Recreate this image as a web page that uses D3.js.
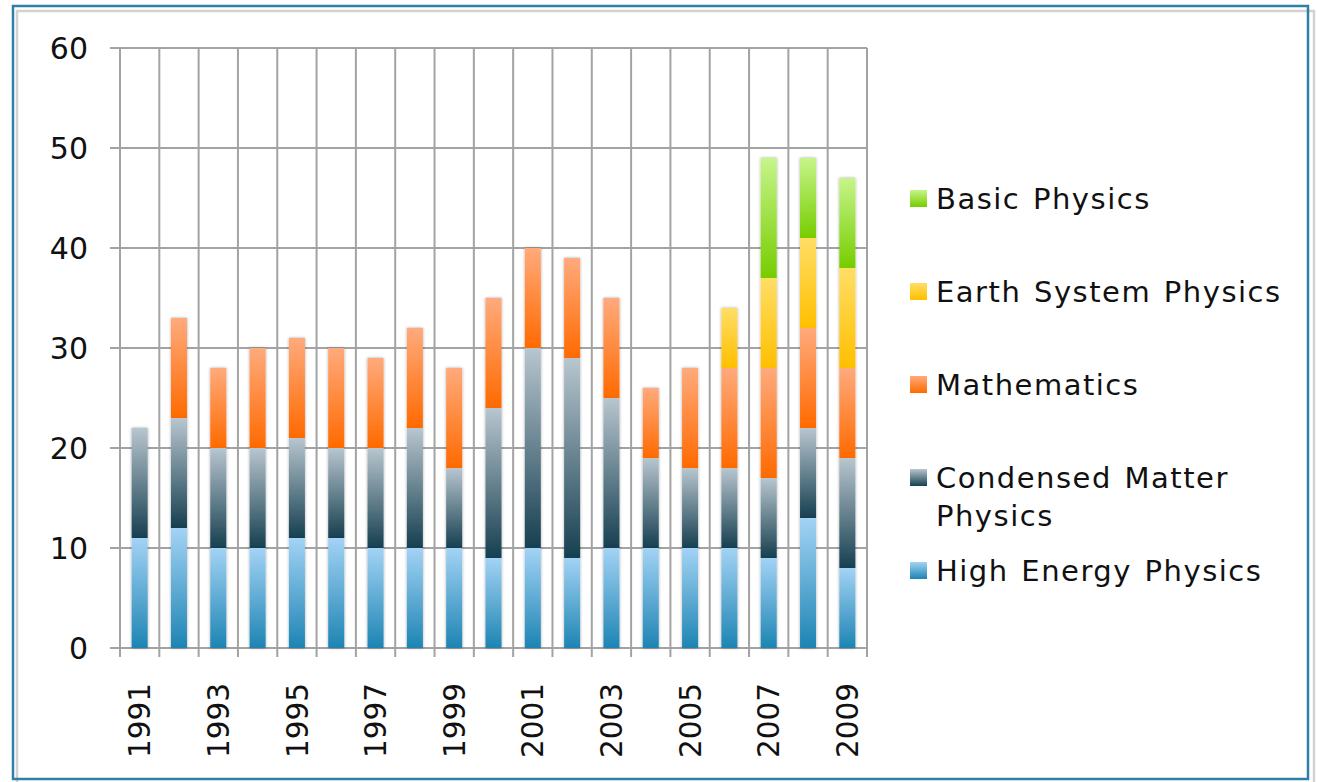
<!DOCTYPE html>
<html>
<head>
<meta charset="utf-8">
<script src="https://cdn.jsdelivr.net/npm/d3@7"></script>
<style>
  html,body{margin:0;padding:0;background:#fff;}
  svg{display:block;font-family:"DejaVu Sans",Verdana,sans-serif;}
</style>
</head>
<body>
<svg id="chart" width="1317" height="782"></svg>
<script>
// ---- data ----
const years = d3.range(1991, 2010).map(String);
const seriesNames = ['High Energy Physics','Condensed Matter Physics','Mathematics','Earth System Physics','Basic Physics'];
const highEnergy  = [11,12,10,10,11,11,10,10,10, 9,10, 9,10,10,10,10, 9,13, 8];
const condensed   = [11,11,10,10,10, 9,10,12, 8,15,20,20,15, 9, 8, 8, 8, 9,11];
const mathematics = [ 0,10, 8,10,10,10, 9,10,10,11,10,10,10, 7,10,10,11,10, 9];
const earthSystem = [ 0, 0, 0, 0, 0, 0, 0, 0, 0, 0, 0, 0, 0, 0, 0, 6, 9, 9,10];
const basic       = [ 0, 0, 0, 0, 0, 0, 0, 0, 0, 0, 0, 0, 0, 0, 0, 0,12, 8, 9];
const yTicks = [0,10,20,30,40,50,60];
const yearLabels = years.filter((y,i)=>i%2===0);

// gradient stops per series: [top, bottom]
const grads = [
  ['#a3d3f5','#1d84b3'],
  ['#b8c6cf','#163f50'],
  ['#ffaa7c','#ff6a00'],
  ['#ffde66','#ffbf00'],
  ['#c6f58a','#77cc00']
];

const svg = d3.select('#chart');
const M = {l:120, r:867, t:48, b:648};

const x = d3.scaleBand().domain(years).range([M.l, M.r]).paddingInner(0).paddingOuter(0);
const y = d3.scaleLinear().domain([0,60]).range([M.b, M.t]);

const rows = years.map((yr,i)=>({year:yr, s0:highEnergy[i], s1:condensed[i], s2:mathematics[i], s3:earthSystem[i], s4:basic[i]}));
const stack = d3.stack().keys(['s0','s1','s2','s3','s4'])(rows);

const defs = svg.append('defs');
grads.forEach((g,i)=>{
  const lg = defs.append('linearGradient').attr('id','g'+i).attr('x1',0).attr('y1',0).attr('x2',0).attr('y2',1);
  lg.append('stop').attr('offset','0%').attr('stop-color',g[0]);
  lg.append('stop').attr('offset','100%').attr('stop-color',g[1]);
});
const f = defs.append('filter').attr('id','sh').attr('x','-50%').attr('y','-10%').attr('width','200%').attr('height','120%');
f.append('feDropShadow').attr('dx',0).attr('dy',0).attr('stdDeviation',1.6).attr('flood-color','#000').attr('flood-opacity',0.35);

// frame
svg.append('rect').attr('x',17).attr('y',11).attr('width',1297).attr('height',775)
  .attr('fill','none').attr('stroke','#d2d2d2').attr('stroke-width',2.5);
svg.append('rect').attr('x',13).attr('y',6).attr('width',1295).attr('height',773)
  .attr('fill','none').attr('stroke','#2f7fa9').attr('stroke-width',2.5);

const gridCol = '#a3a3a3';
// horizontal grid
svg.append('g').selectAll('line').data(yTicks).join('line')
  .attr('x1',M.l-10).attr('x2',M.r).attr('y1',d=>y(d)).attr('y2',d=>y(d))
  .attr('stroke',gridCol).attr('stroke-width',2);
// vertical grid at band boundaries
const bounds = years.map(d=>x(d)).concat([M.r]);
svg.append('g').selectAll('line').data(bounds).join('line')
  .attr('x1',d=>d).attr('x2',d=>d).attr('y1',M.t).attr('y2',M.b+9)
  .attr('stroke',gridCol).attr('stroke-width',2);

// bars
const bw = 16;
const barG = svg.append('g').attr('filter','url(#sh)');
stack.forEach((layer,li)=>{
  barG.append('g').selectAll('rect').data(layer.filter(d=>d[1]>d[0])).join('rect')
    .attr('x',d=>x(d.data.year)+x.bandwidth()/2-bw/2)
    .attr('width',bw)
    .attr('y',d=>y(d[1]))
    .attr('height',d=>y(d[0])-y(d[1]))
    .attr('fill','url(#g'+li+')');
});

// y axis labels
svg.append('g').selectAll('text').data(yTicks).join('text')
  .attr('x',88).attr('y',d=>y(d)).attr('dy','0.36em')
  .attr('text-anchor','end').attr('font-size',30).attr('fill','#111')
  .text(d=>d);

// x axis labels (rotated)
svg.append('g').selectAll('text').data(yearLabels).join('text')
  .attr('transform',d=>`translate(${x(d)+x.bandwidth()/2},683) rotate(-90)`)
  .attr('text-anchor','end').attr('dy','0.36em')
  .attr('font-size',29.5).attr('fill','#111')
  .text(d=>d);

// legend
const legend = [
  {i:4, lines:['Basic Physics'], y:199},
  {i:3, lines:['Earth System Physics'], y:292},
  {i:2, lines:['Mathematics'], y:385},
  {i:1, lines:['Condensed Matter','Physics'], y:478},
  {i:0, lines:['High Energy Physics'], y:571}
];
const lg = svg.append('g');
legend.forEach(L=>{
  lg.append('rect').attr('x',910).attr('y',L.y-9).attr('width',17).attr('height',17).attr('fill','url(#g'+L.i+')');
  const t = lg.append('text').attr('x',936).attr('y',L.y).attr('font-size',29)
    .attr('letter-spacing',1.5).attr('word-spacing',2).attr('fill','#111');
  L.lines.forEach((s,k)=>t.append('tspan').attr('x',936).attr('dy',k===0?'0.36em':'1.28em').text(s));
});
</script>
</body>
</html>
